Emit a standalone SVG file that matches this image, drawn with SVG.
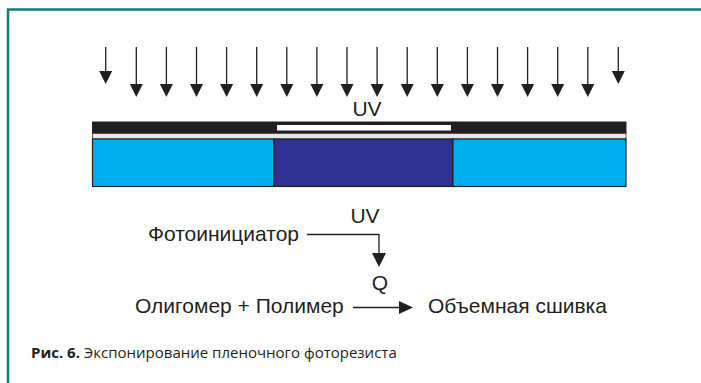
<svg xmlns="http://www.w3.org/2000/svg" width="701" height="383" viewBox="0 0 701 383">
  <defs>
    <g id="ray">
      <line x1="0" y1="0" x2="0" y2="38" stroke="#231f20" stroke-width="1.3"/>
      <path d="M-6.5,37 L6.5,37 L0,50 Z" fill="#231f20"/>
    </g>
    <g id="rayShort">
      <line x1="0" y1="0" x2="0" y2="25" stroke="#231f20" stroke-width="1.3"/>
      <path d="M-6.5,24 L6.5,24 L0,37 Z" fill="#231f20"/>
    </g>
  </defs>
  <style>
    .lbl { font-family: "Liberation Sans", Arial, sans-serif; font-size: 21px; fill: #231f20; }
    .cap { font-family: "Open Sans", "Noto Sans", sans-serif; font-size: 15px; fill: #231f20; }
    .conn { stroke: #231f20; stroke-width: 1.3; fill: none; }
  </style>

  <rect width="701" height="383" fill="#ffffff"/>

  <!-- frame -->
  <path d="M8,383 L8,9.5 L701,9.5" fill="none" stroke="#0a7f78" stroke-width="2.5"/>

  <!-- incident UV rays -->
  <g id="rays">
    <use href="#rayShort" x="105.7" y="47"/>
    <use href="#ray" x="136.3" y="47"/>
    <use href="#ray" x="166.4" y="47"/>
    <use href="#ray" x="196.5" y="47"/>
    <use href="#ray" x="226.6" y="47"/>
    <use href="#ray" x="256.7" y="47"/>
    <use href="#ray" x="286.8" y="47"/>
    <use href="#ray" x="316.9" y="47"/>
    <use href="#ray" x="347.0" y="47"/>
    <use href="#ray" x="377.1" y="47"/>
    <use href="#ray" x="407.2" y="47"/>
    <use href="#ray" x="437.3" y="47"/>
    <use href="#ray" x="467.4" y="47"/>
    <use href="#ray" x="497.5" y="47"/>
    <use href="#ray" x="527.6" y="47"/>
    <use href="#ray" x="557.7" y="47"/>
    <use href="#ray" x="587.8" y="47"/>
    <use href="#rayShort" x="618.3" y="47"/>
  </g>

  <text class="lbl" x="367" y="115.5" text-anchor="middle">UV</text>

  <!-- photomask and film stack -->
  <g id="stack">
    <rect x="92" y="121.5" width="534.5" height="12" fill="#231f20"/>
    <rect x="277" y="125" width="174" height="5.5" fill="#ffffff"/>
    <rect x="92.5" y="133.5" width="533.5" height="5.5" fill="#e6e7e8" stroke="#3a3a3a" stroke-width="0.8"/>
    <rect x="92.5" y="139" width="181.5" height="47.5" fill="#00aeef" stroke="#231f20" stroke-width="1.2"/>
    <rect x="274" y="139" width="179" height="47.5" fill="#2e3192" stroke="#231f20" stroke-width="1.2"/>
    <rect x="453" y="139" width="173" height="47.5" fill="#00aeef" stroke="#231f20" stroke-width="1.2"/>
  </g>

  <!-- reaction scheme -->
  <g id="photoinitiator">
    <text class="lbl" x="148" y="241">Фотоинициатор</text>
  </g>
  <g id="uv-label">
    <text class="lbl" x="365" y="223" text-anchor="middle">UV</text>
  </g>
  <g id="q">
    <text class="lbl" x="380" y="290" text-anchor="middle">Q</text>
  </g>
  <g id="monomers">
    <text class="lbl" x="135" y="313">Олигомер + Полимер</text>
  </g>
  <g id="crosslink">
    <text class="lbl" x="428" y="313">Объемная сшивка</text>
  </g>
  <g id="connectors">
    <path class="conn" d="M307,234.5 L379,234.5 L379,254"/>
    <path d="M372,253 L386,253 L379,267 Z" fill="#231f20"/>
    <line class="conn" x1="353" y1="307.5" x2="400" y2="307.5"/>
    <path d="M399,301 L413,307.5 L399,314 Z" fill="#231f20"/>
  </g>

  <!-- caption -->
  <text class="cap" x="31" y="358"><tspan font-weight="bold">Рис. 6.</tspan> Экспонирование пленочного фоторезиста</text>
</svg>
